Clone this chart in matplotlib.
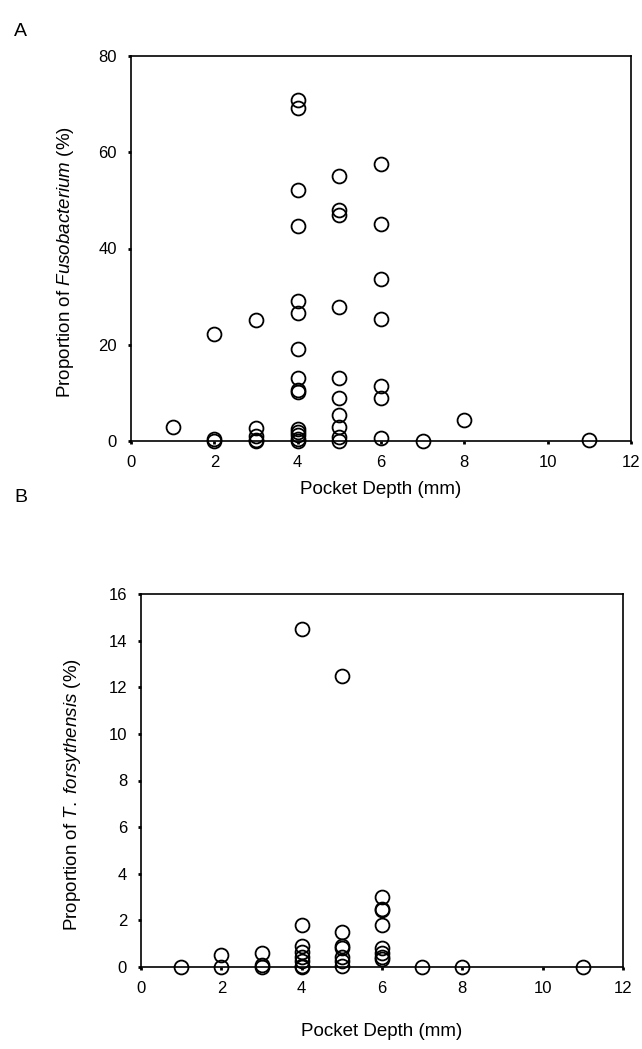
import matplotlib
matplotlib.use("Agg")
import matplotlib.pyplot as plt

plt.rcParams['font.family'] = ['Liberation Sans', 'DejaVu Sans']
plt.rcParams['mathtext.fontset'] = 'custom'
plt.rcParams['mathtext.rm'] = 'Liberation Sans'
plt.rcParams['mathtext.it'] = 'Liberation Sans:italic'

# Panel A: Fusobacterium proportion (%) vs pocket depth (mm)
depth_a = [1,
           2, 2, 2,
           3, 3, 3, 3, 3,
           4, 4, 4, 4, 4, 4, 4, 4, 4, 4, 4, 4, 4, 4, 4,
           5, 5, 5, 5, 5, 5, 5, 5, 5, 5,
           6, 6, 6, 6, 6, 6, 6,
           7, 8, 11]
fuso = [2.9,
        22.2, 0.5, 0.0,
        25.2, 2.6, 1.0, 0.3, 0.0,
        70.9, 69.1, 52.1, 44.7, 29.0, 26.7, 19.1, 13.0, 10.5, 10.2, 2.5, 1.8, 1.2, 0.5, 0.0,
        55.1, 48.1, 46.9, 27.9, 13.0, 8.9, 5.3, 2.9, 0.8, 0.0,
        57.5, 45.0, 33.6, 25.3, 11.4, 8.9, 0.7,
        0.0, 4.3, 0.2]

# Panel B: T. forsythensis proportion (%) vs pocket depth (mm)
depth_b = [1,
           2, 2,
           3, 3, 3,
           4, 4, 4, 4, 4, 4, 4, 4,
           5, 5, 5, 5, 5, 5, 5,
           6, 6, 6, 6, 6, 6, 6, 6,
           7, 8, 11]
tfor = [0.0,
        0.5, 0.0,
        0.6, 0.1, 0.0,
        14.5, 1.8, 0.9, 0.65, 0.45, 0.25, 0.06, 0.0,
        12.5, 1.5, 0.9, 0.8, 0.45, 0.25, 0.03,
        3.0, 2.5, 2.45, 1.8, 0.8, 0.6, 0.43, 0.34,
        0.0, 0.0, 0.0]

x_ticks = [0, 2, 4, 6, 8, 10, 12]
ya_ticks = [0, 20, 40, 60, 80]
yb_ticks = [0, 2, 4, 6, 8, 10, 12, 14, 16]

W, H = 642, 1049
fig = plt.figure(figsize=(W / 100, H / 100), dpi=100)

def px_axes(left, right, top, bottom):
    return fig.add_axes([left / W, 1 - bottom / H, (right - left) / W, (bottom - top) / H])

def style(ax, xs, ys, yt, ymax):
    ax.plot(xs, ys, linestyle='none', marker='o', markersize=10,
            markerfacecolor='none', markeredgecolor='black', markeredgewidth=1.3,
            clip_on=False, zorder=3)
    ax.set_xlim(0, 12)
    ax.set_ylim(0, ymax)
    ax.set_xticks(x_ticks)
    ax.set_yticks(yt)
    for s in ax.spines.values():
        s.set_linewidth(1.2)
        s.set_color('black')
    ax.tick_params(direction='out', length=2, width=2, labelsize=12, pad=8, colors='black')

axA = px_axes(131, 631, 56, 441)
style(axA, depth_a, fuso, ya_ticks, 80)
axA.set_xlabel('Pocket Depth (mm)', fontsize=13.5)
axA.xaxis.set_label_coords(0.5, (441 - 490) / 385)
axA.xaxis.label.set_va('center')
axA.set_ylabel('Proportion of $\\it{Fusobacterium}$ (%)', fontsize=13.5)
axA.yaxis.set_label_coords((66 - 131) / 500, (441 - 262) / 385)
axA.yaxis.label.set_va('center')
fig.text(14 / W, 1 - 32 / H, 'A', fontsize=14, va='center', ha='left')

axB = px_axes(141, 623, 594, 967)
style(axB, depth_b, tfor, yb_ticks, 16)
axB.set_xlabel('Pocket Depth (mm)', fontsize=13.5)
axB.xaxis.set_label_coords(0.5, (967 - 1032) / 373)
axB.xaxis.label.set_va('center')
axB.set_ylabel('Proportion of $\\it{T.\\ forsythensis}$ (%)', fontsize=13.5)
axB.yaxis.set_label_coords((73 - 141) / 482, (967 - 795) / 373)
axB.yaxis.label.set_va('center')
fig.text(14 / W, 1 - 497 / H, 'B', fontsize=14, va='center', ha='left')

fig.savefig('out.png', dpi=100, facecolor='white')
